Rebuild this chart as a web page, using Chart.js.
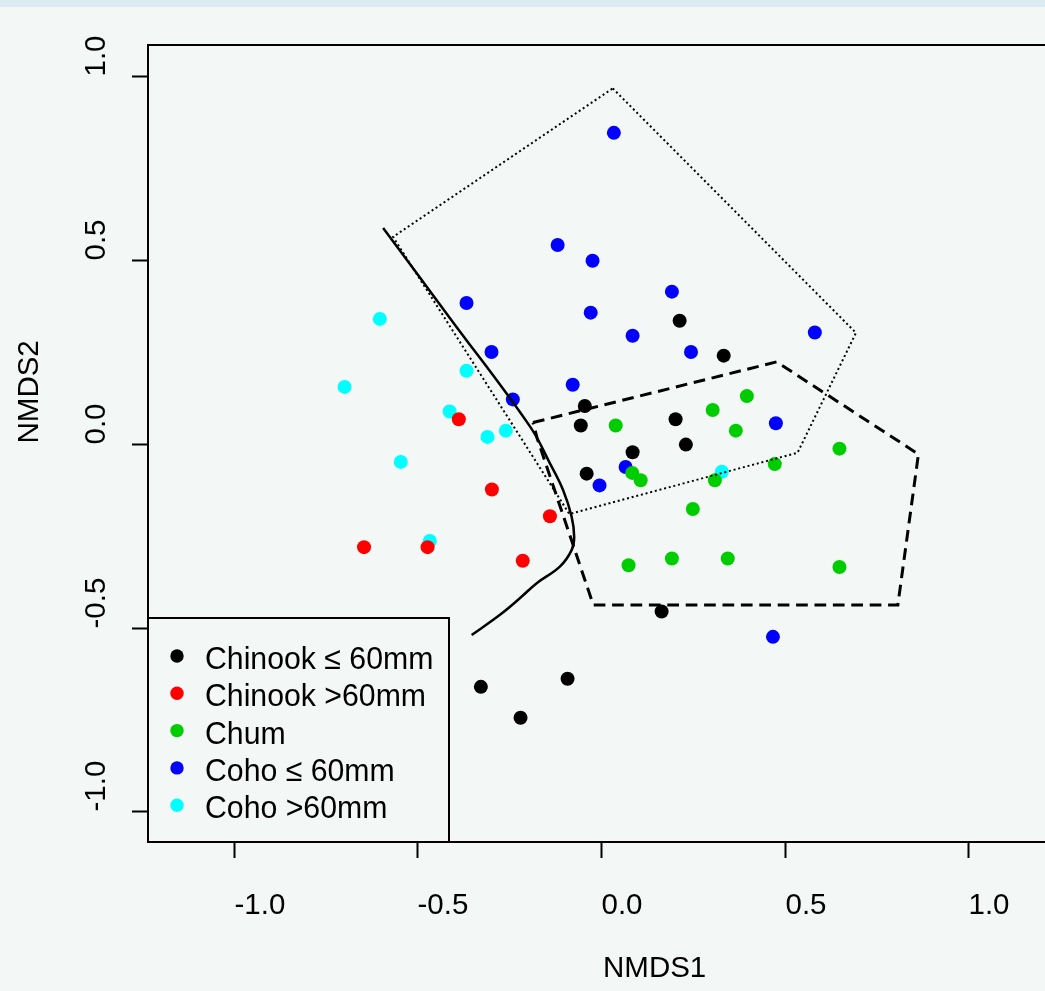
<!DOCTYPE html>
<html>
<head>
<meta charset="utf-8">
<script src="https://cdn.jsdelivr.net/npm/chart.js@4.4.1/dist/chart.umd.min.js"></script>
<style>
  html, body { margin: 0; padding: 0; background: #f3f8f6; overflow: hidden; }
  #wrap { width: 1045px; height: 991px; overflow: hidden; }
</style>
</head>
<body>
<div id="wrap"><canvas id="myChart" width="1070" height="991"></canvas></div>
<script>
// group names and colours
const groupNames = ['Chinook ≤ 60mm', 'Chinook >60mm', 'Chum', 'Coho ≤ 60mm', 'Coho >60mm'];
const groupColors = ['#000000', '#ff0000', '#00cd00', '#0000ff', '#00ffff'];

// NMDS scores
const chinookSmallX = [0.214, 0.334, -0.044, -0.055, 0.203, 0.231, 0.086, -0.039, 0.165, -0.327, -0.091, -0.219];
const chinookSmallY = [0.335, 0.240, 0.103, 0.050, 0.067, -0.002, -0.023, -0.081, -0.456, -0.661, -0.639, -0.745];

const chinookLargeX = [-0.387, -0.297, -0.139, -0.645, -0.472, -0.213];
const chinookLargeY = [0.067, -0.124, -0.197, -0.281, -0.281, -0.318];

const chumX = [0.040, 0.397, 0.304, 0.367, 0.649, 0.473, 0.085, 0.108, 0.310, 0.250, 0.075, 0.193, 0.345, 0.649];
const chumY = [0.050, 0.130, 0.092, 0.036, -0.013, -0.055, -0.079, -0.099, -0.099, -0.177, -0.330, -0.312, -0.312, -0.335];

const cohoSmallX = [0.035, -0.118, -0.023, 0.193, -0.366, -0.028, 0.582, 0.086, 0.245, -0.298, -0.077, -0.240, 0.476, 0.067, -0.004, 0.468];
const cohoSmallY = [0.846, 0.541, 0.498, 0.414, 0.383, 0.357, 0.303, 0.294, 0.250, 0.250, 0.161, 0.121, 0.056, -0.063, -0.113, -0.525];

const cohoLargeX = [-0.602, -0.366, -0.698, -0.412, -0.259, -0.309, -0.545, -0.466, 0.329];
const cohoLargeY = [0.340, 0.199, 0.155, 0.088, 0.036, 0.019, -0.049, -0.264, -0.076];

// hull outlines (closed)
const dottedHullX = [0.032, 0.694, 0.535, -0.086, -0.566, 0.032];
const dottedHullY = [0.967, 0.302, -0.024, -0.191, 0.563, 0.967];

const dashedHullX = [-0.185, 0.478, 0.864, 0.808, -0.021, -0.174, -0.185];
const dashedHullY = [0.058, 0.223, -0.028, -0.438, -0.438, 0.016, 0.058];

// smooth boundary curve
const curveX = [-0.593, -0.411, -0.193, -0.139, -0.103, -0.080, -0.073, -0.080, -0.112, -0.175, -0.221, -0.275, -0.352];
const curveY = [0.587, 0.342, 0.047, -0.053, -0.126, -0.198, -0.253, -0.289, -0.334, -0.379, -0.420, -0.465, -0.520];

// axes
const xTicks = [-1.0, -0.5, 0.0, 0.5, 1.0];
const yTicks = [-1.0, -0.5, 0.0, 0.5, 1.0];
const xTitle = 'NMDS1';
const yTitle = 'NMDS2';

const zip = (xs, ys) => xs.map((x, i) => ({ x: x, y: ys[i] }));

const AXIS_FONT = '29.5px "Liberation Sans", Arial, sans-serif';
const LEGEND_FONT = '31.5px "Liberation Sans", Arial, sans-serif';

function drawText(ctx, text, x, y, align, rotate, font, squeeze) {
    ctx.save();
    ctx.translate(x, y);
    if (rotate) ctx.rotate(-Math.PI / 2);
    ctx.scale(squeeze || 1, 1);
    ctx.font = font;
    ctx.fillStyle = '#000';
    ctx.textAlign = align;
    ctx.textBaseline = 'middle';
    ctx.fillText(text, 0, 0);
    ctx.restore();
}

const rStyle = {
    id: 'rStyle',
    beforeDraw(chart) {
        const ctx = chart.ctx;
        ctx.save();
        ctx.fillStyle = '#f3f8f6';
        ctx.fillRect(0, 0, chart.width, chart.height);
        ctx.fillStyle = '#daecf2';
        ctx.fillRect(0, 0, chart.width, 7);
        ctx.restore();
    },
    afterDraw(chart) {
        const ctx = chart.ctx;
        const a = chart.chartArea;
        const xs = chart.scales.x;
        const ys = chart.scales.y;
        ctx.save();
        ctx.strokeStyle = '#000';
        ctx.lineWidth = 2;
        ctx.strokeRect(a.left, a.top, a.right - a.left, a.bottom - a.top);

        // x axis
        xTicks.forEach(v => {
            const px = Math.round(xs.getPixelForValue(v)) + 0.5;
            ctx.beginPath();
            ctx.moveTo(px, a.bottom);
            ctx.lineTo(px, a.bottom + 16);
            ctx.stroke();
            drawText(ctx, v.toFixed(1), px, a.bottom + 63.5, 'left', false, AXIS_FONT);
        });
        // y axis
        yTicks.forEach(v => {
            const py = Math.round(ys.getPixelForValue(v)) + 0.5;
            ctx.beginPath();
            ctx.moveTo(a.left - 16, py);
            ctx.lineTo(a.left, py);
            ctx.stroke();
            drawText(ctx, v.toFixed(1), a.left - 51, py, 'left', true, AXIS_FONT);
        });
        drawText(ctx, xTitle, (a.left + a.right) / 2 + 2, a.bottom + 127, 'left', false, AXIS_FONT);
        drawText(ctx, yTitle, 30, (a.top + a.bottom) / 2, 'left', true, AXIS_FONT);

        // legend box in the lower left corner
        const boxRight = 449, boxTop = 618;
        ctx.fillStyle = '#f3f8f6';
        ctx.fillRect(a.left, boxTop, boxRight - a.left, a.bottom - boxTop);
        ctx.strokeRect(a.left, boxTop, boxRight - a.left, a.bottom - boxTop);
        groupNames.forEach((name, i) => {
            const cy = 656 + i * 37.3;
            ctx.beginPath();
            ctx.fillStyle = groupColors[i];
            ctx.arc(177, cy, 6.7, 0, Math.PI * 2);
            ctx.fill();
            drawText(ctx, name, 205, cy + 4.5, 'left', false, LEGEND_FONT, 0.96);
        });
        ctx.restore();
    }
};

const pointSets = [
    [chinookSmallX, chinookSmallY],
    [chinookLargeX, chinookLargeY],
    [chumX, chumY],
    [cohoSmallX, cohoSmallY],
    [cohoLargeX, cohoLargeY]
].map((p, i) => ({
    label: groupNames[i],
    data: zip(p[0], p[1]),
    backgroundColor: groupColors[i],
    borderWidth: 0,
    pointRadius: 7,
    pointHoverRadius: 7,
    order: 2
}));

const lineSets = [
    {
        label: 'hull dotted',
        data: zip(dottedHullX, dottedHullY),
        showLine: true,
        borderColor: '#000',
        borderWidth: 2,
        borderDash: [2, 2.8],
        pointRadius: 0,
        tension: 0,
        order: 1
    },
    {
        label: 'hull dashed',
        data: zip(dashedHullX, dashedHullY),
        showLine: true,
        borderColor: '#000',
        borderWidth: 3,
        borderDash: [11.7, 6.7],
        pointRadius: 0,
        tension: 0,
        order: 1
    },
    {
        label: 'curve',
        data: zip(curveX, curveY),
        showLine: true,
        borderColor: '#000',
        borderWidth: 2.5,
        pointRadius: 0,
        tension: 0.4,
        order: 1
    }
];

const config = {
    type: 'scatter',
    data: { datasets: pointSets.concat(lineSets) },
    options: {
        responsive: false,
        animation: false,
        layout: { padding: { left: 148, top: 45, right: 16, bottom: 149 } },
        scales: {
            x: { type: 'linear', min: -1.233, max: 1.233, display: false },
            y: { type: 'linear', min: -1.083, max: 1.085, display: false }
        },
        plugins: {
            legend: { display: false },
            tooltip: { enabled: false }
        }
    },
    plugins: [rStyle]
};

const myChart = new Chart(document.getElementById('myChart'), config);
</script>
</body>
</html>
